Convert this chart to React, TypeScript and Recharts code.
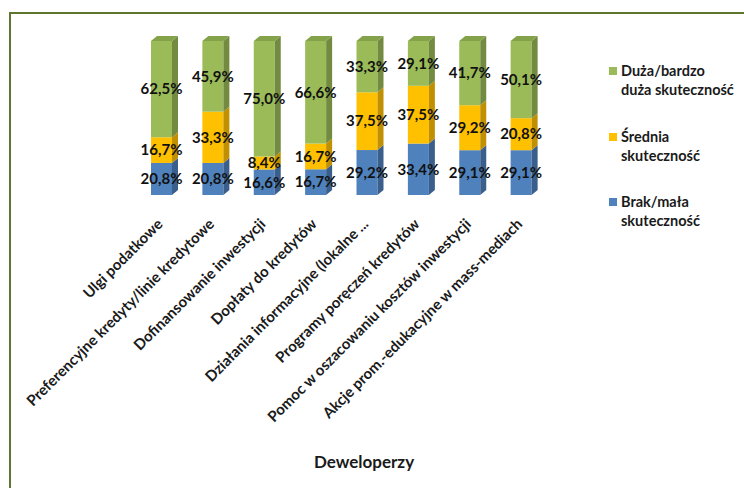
import React from 'react'
import { BarChart, Bar, XAxis, YAxis, LabelList } from 'recharts'

const categories = [
    'Ulgi podatkowe',
    'Preferencyjne kredyty/linie kredytowe',
    'Dofinansowanie inwestycji',
    'Dopłaty do kredytów',
    'Działania informacyjne (lokalne ...',
    'Programy poręczeń kredytów',
    'Pomoc w oszacowaniu kosztów inwestycji',
    'Akcje prom.-edukacyjne w mass-mediach',
]
const brak = [20.8, 20.8, 16.6, 16.7, 29.2, 33.4, 29.1, 29.1]
const srednia = [16.7, 33.3, 8.4, 16.7, 37.5, 37.5, 29.2, 20.8]
const duza = [62.5, 45.9, 75.0, 66.6, 33.3, 29.1, 41.7, 50.1]

const data = categories.map((name, i) => ({ name, brak: brak[i], srednia: srednia[i], duza: duza[i] }))

const FONT = 'Lato, "Open Sans", sans-serif'
const DX = 6
const DY = 5

const shape3d = (front: string, side: string, top?: string) => (props: any) => {
    const { x, y, width, height } = props
    if (height == null || width == null) return null
    return (
        <g>
            <rect x={x} y={y} width={width} height={height} fill={front} />
            <polygon
                points={`${x + width},${y} ${x + width + DX},${y - DY} ${x + width + DX},${y + height - DY} ${x + width},${y + height}`}
                fill={side}
            />
            {top && (
                <polygon
                    points={`${x},${y} ${x + DX},${y - DY} ${x + width + DX},${y - DY} ${x + width},${y}`}
                    fill={top}
                />
            )}
        </g>
    )
}

const CategoryTick = ({ x, y, payload }: any) => {
    const ax = x + 2
    const ay = y + 30
    return (
        <text
            x={ax}
            y={ay}
            transform={`rotate(-45, ${ax}, ${ay})`}
            textAnchor="end"
            fontFamily={FONT}
            fontWeight={700}
            fontSize={15}
            fill="#1a1a1a"
        >
            {payload.value}
        </text>
    )
}

const legendItems = [
    { color: '#9BBB59', lines: ['Duża/bardzo', 'duża skuteczność'] },
    { color: '#FFC000', lines: ['Średnia', 'skuteczność'] },
    { color: '#4F81BD', lines: ['Brak/mała', 'skuteczność'] },
]

const fmt = (v: any) => Number(v).toFixed(1).replace('.', ',') + '%'

const labelStyle = { fontFamily: FONT, fontWeight: 700, fontSize: 15, fill: '#111' }

export default function App() {
    return (
        <div style={{ position: 'fixed', left: 0, top: 0, width: 744, height: 488, overflow: 'hidden', background: '#fff' }}>
            <div style={{ position: 'absolute', left: 9, top: 12, width: 800, height: 600, border: '2px solid #5E7630', boxSizing: 'border-box' }} />
            <div style={{ position: 'absolute', left: 0, top: 0 }}>
                <BarChart
                    width={744}
                    height={488}
                    data={data}
                    margin={{ top: 41, right: 197, bottom: 93, left: 136 }}
                    barCategoryGap={0}
                >
                    <XAxis
                        dataKey="name"
                        interval={0}
                        axisLine={false}
                        tickLine={false}
                        tickSize={0}
                        tickMargin={0}
                        height={200}
                        tick={<CategoryTick />}
                    />
                    <YAxis hide domain={[0, 100]} />
                    <Bar dataKey="brak" stackId="a" barSize={21} isAnimationActive={false} shape={shape3d('#4F81BD', '#3A5F8C')}>
                        <LabelList dataKey="brak" position="center" formatter={fmt} style={labelStyle} />
                    </Bar>
                    <Bar dataKey="srednia" stackId="a" barSize={21} isAnimationActive={false} shape={shape3d('#FFC000', '#C09000')}>
                        <LabelList dataKey="srednia" position="center" formatter={fmt} style={labelStyle} />
                    </Bar>
                    <Bar dataKey="duza" stackId="a" barSize={21} isAnimationActive={false} shape={shape3d('#9BBB59', '#728B40', '#84A24A')}>
                        <LabelList dataKey="duza" position="center" formatter={fmt} style={labelStyle} />
                    </Bar>
                </BarChart>
            </div>
            <div style={{ position: 'absolute', left: 609, top: 61, width: 134, fontFamily: FONT, fontWeight: 700, fontSize: 14.5, color: '#1a1a1a' }}>
                {legendItems.map((it, i) => (
                    <div key={i} style={{ position: 'relative', height: 65.5, paddingLeft: 12 }}>
                        <span style={{ position: 'absolute', left: 0, top: 6, width: 8, height: 8, background: it.color }} />
                        {it.lines.map((l, j) => (
                            <div key={j} style={{ lineHeight: '19px', whiteSpace: 'nowrap' }}>{l}</div>
                        ))}
                    </div>
                ))}
            </div>
            <div style={{ position: 'absolute', left: 364, top: 451, transform: 'translateX(-50%)', fontFamily: FONT, fontWeight: 700, fontSize: 17, color: '#1a1a1a', whiteSpace: 'nowrap' }}>
                Deweloperzy
            </div>
        </div>
    )
}
